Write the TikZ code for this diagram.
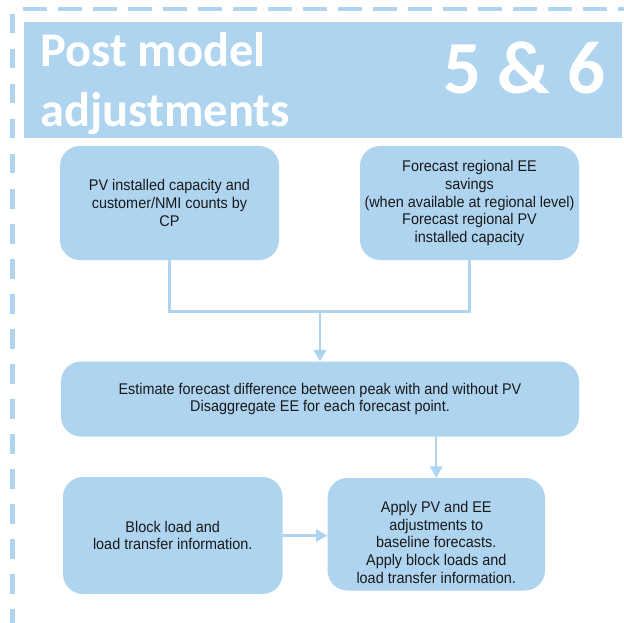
\documentclass[tikz,border=0pt]{standalone}
\usepackage{fontspec}
\setmainfont{Liberation Sans}[FakeStretch=0.93]
\newfontfamily\titlefont{Carlito}
\usetikzlibrary{arrows.meta}
\definecolor{skyb}{RGB}{174,212,240}
\definecolor{ink}{RGB}{25,25,25}
\newcommand{\bodyfont}{\fontsize{15.5}{17.75}\selectfont}
\begin{document}
\begin{tikzpicture}[x=1pt,y=-1pt,
  box/.style={fill=skyb, rounded corners=20pt, inner sep=0pt, align=center,
    text=ink, font=\bodyfont},
  heading/.style={text=white, inner sep=0pt, font=\titlefont\bfseries\fontsize{48.5}{60}\selectfont},
  bignum/.style={text=white, inner sep=0pt, font=\titlefont\bfseries\fontsize{75}{80}\selectfont},
  link/.style={draw=skyb, line width=2.2pt},
  tip/.style={-{Triangle[length=11.5pt,width=12.5pt]}}]
\useasboundingbox (0,0) rectangle (624,623);
\fill[white] (0,0) rectangle (624,623);

% dashed frame along top and left
\draw[skyb, line width=4pt, dash pattern=on 24pt off 11pt] (22.7,9) -- (624,9);
\draw[skyb, line width=4.5pt, dash pattern=on 19.5pt off 15.5pt] (12.3,14) -- (12.3,623);

% header band
\node[fill=skyb, minimum width=598pt, minimum height=115.5pt, inner sep=0pt,
  anchor=north west] (head) at (24,22) {};
\node[heading, anchor=base west] (title1) at (40,66.7) {Post model};
\node[heading, anchor=base west] (title2) at (40,126.7) {adjustments};
\node[bignum, anchor=base east] (steps) at (606,93.3) {5 \& 6};

% process boxes
\node[box, minimum width=219pt, minimum height=114pt] (a) at (169.5,203)
  {PV installed capacity and\\customer/NMI counts by\\CP};
\node[box, minimum width=219pt, minimum height=114pt] (b) at (469.5,203)
  {Forecast regional EE\\savings\\(when available at regional level)\\Forecast regional PV\\installed capacity};
\node[box, minimum width=518pt, minimum height=75pt] (c) at (320,399)
  {Estimate forecast difference between peak with and without PV\\Disaggregate EE for each forecast point.};
\node[box, minimum width=219.5pt, minimum height=117pt] (d) at (172.75,535.5)
  {Block load and\\load transfer information.};
\node[box, minimum width=217.5pt, minimum height=112.5pt] (e) at (436.25,534.25)
  {\rule{0pt}{27.3pt}Apply PV and EE\\adjustments to\\baseline forecasts.\\Apply block loads and\\load transfer information.};

% connectors
\coordinate (join) at (320,311.5);
\draw[link] (a.south) |- (join) -| (b.south);
\draw[link, tip, skyb] (join) -- (c.north);
\draw[link, tip, skyb] (e.north |- c.south) -- (e.north);
\draw[link, tip, skyb] (d.east) -- (d.east -| e.west);
\end{tikzpicture}
\end{document}
